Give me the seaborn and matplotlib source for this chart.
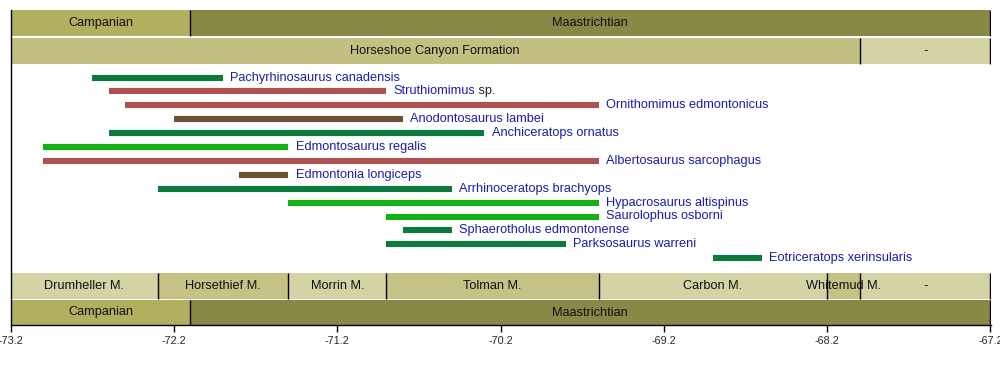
import pandas as pd
import matplotlib
matplotlib.use("Agg")
import matplotlib.pyplot as plt
import seaborn as sns

# Taxa ranges (Ma, negative = years ago), top to bottom
taxa = ["Pachyrhinosaurus canadensis", "Struthiomimus", "Ornithomimus edmontonicus",
        "Anodontosaurus lambei", "Anchiceratops ornatus", "Edmontosaurus regalis",
        "Albertosaurus sarcophagus", "Edmontonia longiceps", "Arrhinoceratops brachyops",
        "Hypacrosaurus altispinus", "Saurolophus osborni", "Sphaerotholus edmontonense",
        "Parksosaurus warreni", "Eotriceratops xerinsularis"]
suffix = ["", "sp.", "", "", "", "", "", "", "", "", "", "", "", ""]
start = [-72.7, -72.6, -72.5, -72.2, -72.6, -73.0, -73.0, -71.8, -72.3, -71.5, -70.9, -70.8, -70.9, -68.9]
end = [-71.9, -70.9, -69.6, -70.8, -70.3, -71.5, -69.6, -71.5, -70.5, -69.6, -69.6, -70.5, -69.8, -68.6]
group = ["ceratopsid", "theropod", "theropod", "ankylosaur", "ceratopsid", "hadrosaur",
         "theropod", "ankylosaur", "ceratopsid", "hadrosaur", "hadrosaur", "ceratopsid",
         "ceratopsid", "ceratopsid"]

# Time scale rows
stage_names = ["Campanian", "Maastrichtian"]
stage_start = [-73.2, -72.1]
stage_end = [-72.1, -67.2]

formation_names = ["Horseshoe Canyon Formation", "-"]
formation_start = [-73.2, -68.0]
formation_end = [-68.0, -67.2]

member_names = ["Drumheller M.", "Horsethief M.", "Morrin M.", "Tolman M.",
                "Carbon M.", "Whitemud M.", "-"]
member_start = [-73.2, -72.3, -71.5, -70.9, -69.6, -68.2, -68.0]
member_end = [-72.3, -71.5, -70.9, -69.6, -68.2, -68.0, -67.2]

tick_values = [-73.2, -72.2, -71.2, -70.2, -69.2, -68.2, -67.2]

group_colors = {"ceratopsid": "#0b7a3c", "theropod": "#b05252",
                "ankylosaur": "#6b5232", "hadrosaur": "#14b014"}
stage_colors = {"Campanian": "#b1b05e", "Maastrichtian": "#888847"}

sns.set_theme(style="white")
plt.rcParams["font.family"] = ["Liberation Sans", "DejaVu Sans"]
plt.rcParams["lines.solid_capstyle"] = "butt"

fig = plt.figure(figsize=(10, 3.75), dpi=100)
ax = fig.add_axes([0.0107, 50 / 375, 0.9798, 315 / 375])

# long table for the range bars
rows = []
for i, name in enumerate(taxa):
    rows.append({"taxon": name, "ma": start[i], "row": i})
    rows.append({"taxon": name, "ma": end[i], "row": i})
df = pd.DataFrame(rows)
palette = {name: group_colors[g] for name, g in zip(taxa, group)}

sns.lineplot(data=df, x="ma", y="row", hue="taxon", units="taxon", estimator=None,
             sort=False, palette=palette, linewidth=4.4, legend=False, ax=ax)

for i, name in enumerate(taxa):
    t = ax.text(end[i] + 0.045, i, name, color="#1c1caa", fontsize=9.2,
                va="center", ha="left")
    if suffix[i]:
        ax.annotate(" " + suffix[i], xy=(1, 0.5), xycoords=t, va="center",
                    ha="left", fontsize=9.2, color="#222222")

# y in row units: row 0 at pixel 77, spacing 13.9 px, axes from pixel 10 to 325
ax.set_ylim((325 - 77.5) / 13.9, (10 - 77.5) / 13.9)
ax.set_xlim(-73.2, -67.2 + 0.0005)

trans = ax.get_xaxis_transform()


def band(names, starts, ends, y0, y1, colors):
    for n, s, e, c in zip(names, starts, ends, colors):
        ax.fill_between([s, e], y0, y1, color=c, transform=trans, lw=0, zorder=2)
        ax.plot([e, e], [y0, y1], color="black", lw=1.0, transform=trans,
                zorder=3, solid_capstyle="butt")
        ax.text((s + e) / 2, (y0 + y1) / 2, n, transform=trans, ha="center",
                va="center", fontsize=9.2, color="#111111", zorder=4)


def frac(p):
    return (325 - p) / 315


band(stage_names, stage_start, stage_end, frac(36), frac(10),
     [stage_colors[s] for s in stage_names])
band(formation_names, formation_start, formation_end, frac(64), frac(38),
     ["#c2c181", "#d4d4a7"])
band(member_names, member_start, member_end, frac(299), frac(273),
     ["#d3d3a6", "#c4c385", "#d3d3a6", "#c4c385", "#d3d3a6", "#c4c385", "#d3d3a6"])
band(stage_names, stage_start, stage_end, frac(325), frac(300),
     [stage_colors[s] for s in stage_names])

for sp in ["top", "right"]:
    ax.spines[sp].set_visible(False)
for sp in ["left", "bottom"]:
    ax.spines[sp].set_color("black")
    ax.spines[sp].set_linewidth(1.0)
    ax.spines[sp].set_zorder(5)

ax.set_xticks(tick_values)
ax.set_xticklabels([f"{v:.1f}" for v in tick_values])
ax.tick_params(axis="x", bottom=True, direction="out", length=5, width=1,
               color="black", labelsize=7.8, pad=3)
ax.set_yticks([])
ax.set_xlabel("")
ax.set_ylabel("")
ax.grid(False)

fig.savefig("out.png", dpi=100, facecolor="white")
